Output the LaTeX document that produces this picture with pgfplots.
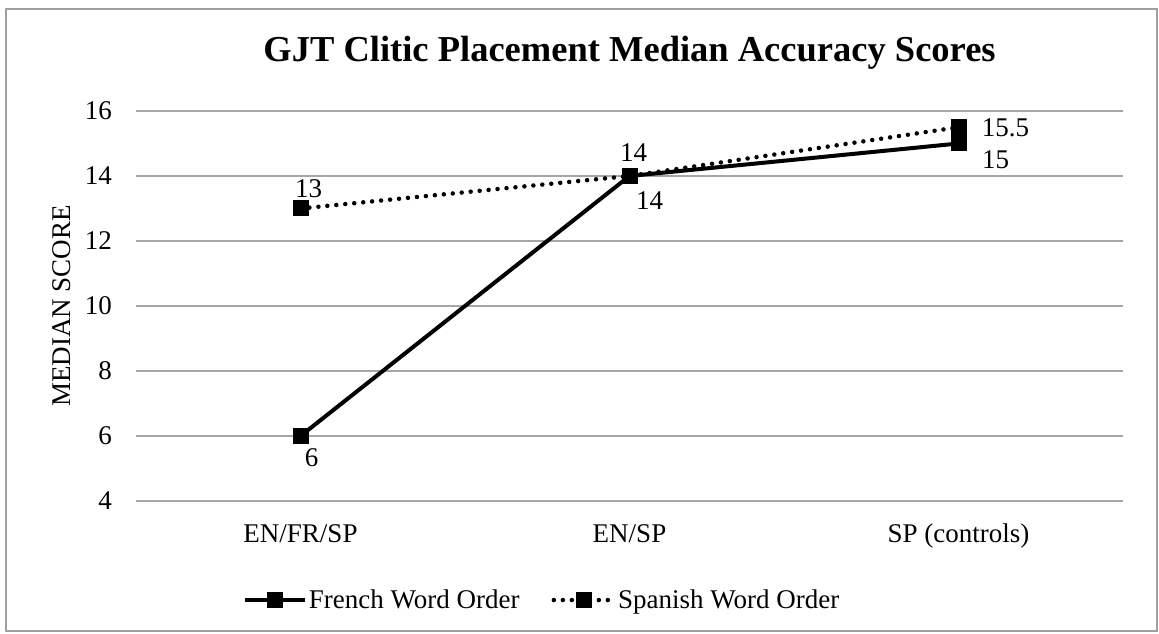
\documentclass[border=0pt]{standalone}
\usepackage{fontspec}
\setmainfont{Liberation Serif}
\usepackage{pgfplots}
\pgfplotsset{compat=1.18}
\definecolor{gridgray}{HTML}{A6A6A6}
\definecolor{framegray}{HTML}{A0A0A0}
\newcommand{\tf}{\fontsize{27}{32}\selectfont}
\begin{document}
\begin{tikzpicture}
\path[use as bounding box] (0pt,0pt) rectangle (1159pt,634pt);
\draw[framegray, line width=2pt] (6pt,3pt) rectangle (1157pt,625pt);
\begin{axis}[
  at={(136pt,133pt)}, anchor=south west,
  scale only axis, width=987pt, height=390pt,
  xmin=0, xmax=3, ymin=4, ymax=16,
  xtick={0.5,1.5,2.5}, xticklabels={EN/FR/SP, EN/SP, SP (controls)},
  ytick={4,6,...,16},
  /pgf/number format/assume math mode=true,
  ymajorgrids, major grid style={gridgray, line width=1.5pt},
  axis line style={draw=none},
  major tick length=0pt,
  tick label style={font=\tf},
  xticklabel style={anchor=base, yshift=-42pt},
  yticklabel style={anchor=east, inner sep=0pt, xshift=-24pt},
  ylabel={MEDIAN SCORE},
  ylabel style={font=\tf, at={(axis description cs:-0.075,0.5)}, anchor=center},
  title={GJT Clitic Placement Median Accuracy Scores},
  title style={font=\bfseries\fontsize{36.5}{42}\selectfont, at={(axis description cs:0.5,1.1128)}, anchor=base},
  legend columns=2,
  legend style={draw=none, fill=none, at={(axis description cs:0.105,-0.254)}, anchor=west, font=\tf, /tikz/every even column/.append style={column sep=30pt}},
  legend image code/.code={\draw[mark repeat=2,mark phase=2] plot coordinates {(0pt,0pt) (30pt,0pt) (60pt,0pt)};},
]
\addplot[black, line width=4pt, mark=square*, mark size=7.5pt, mark options={solid, line width=0pt}] coordinates {(0.5,6) (1.5,14) (2.5,15)};
\addlegendentry{French Word Order}
\addplot[black, line width=4.5pt, line cap=round, dash pattern=on 0pt off 9pt, mark=square*, mark size=7.5pt, mark options={solid, line width=0pt}] coordinates {(0.5,13) (1.5,14) (2.5,15.5)};
\addlegendentry{Spanish Word Order}
\node[font=\tf, xshift=11pt, yshift=-22pt] at (axis cs:0.5,6) {6};
\node[font=\tf, xshift=20pt, yshift=-25pt] at (axis cs:1.5,14) {14};
\node[font=\tf, xshift=37pt, yshift=-16pt] at (axis cs:2.5,15) {15};
\node[font=\tf, xshift=8pt, yshift=20pt] at (axis cs:0.5,13) {13};
\node[font=\tf, xshift=4pt, yshift=23pt] at (axis cs:1.5,14) {14};
\node[font=\tf, xshift=47pt, yshift=-1pt] at (axis cs:2.5,15.5) {15.5};
\end{axis}
\end{tikzpicture}
\end{document}
